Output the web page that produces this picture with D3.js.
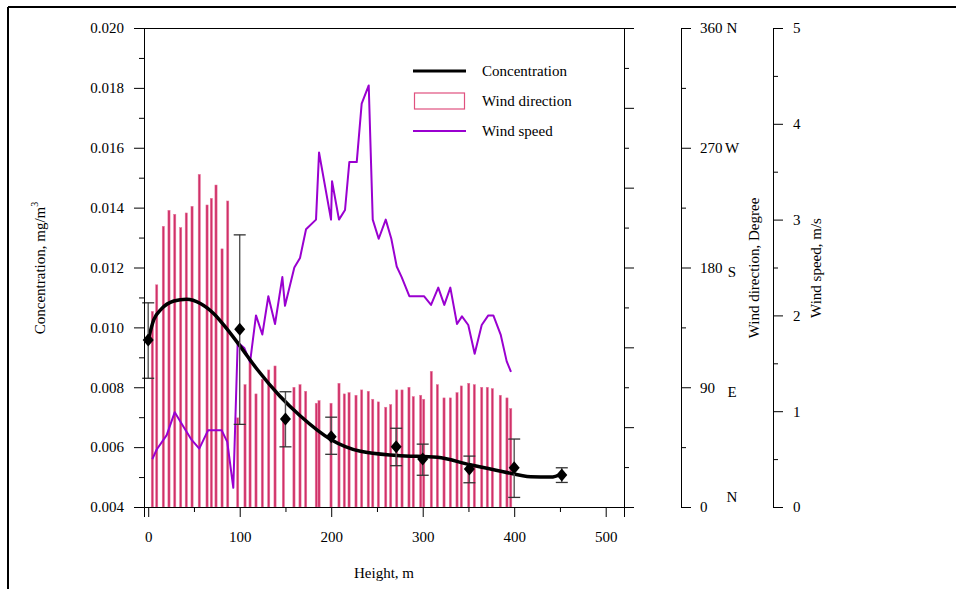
<!DOCTYPE html>
<html><head><meta charset="utf-8">
<script src="https://cdn.jsdelivr.net/npm/d3@7"></script>
<style>
html,body{margin:0;padding:0;background:#fff;}
svg text{font-family:"Liberation Serif","Times New Roman",serif;font-size:15px;fill:#000;}
</style></head>
<body><svg id="c" width="956" height="589"></svg>
<script>
// ---------- data ----------
// Wind direction measurements (height m, degrees)
const dirHeights = [4.5,9.3,16.5,22.7,29.0,35.5,41.6,47.9,55.8,64.3,69.0,74.1,80.7,86.9,97.8,105.8,111.3,117.8,124.7,131.7,138.6,147.7,159.3,165.9,172.1,183.7,186.7,199.8,208.5,214.3,219.5,227.1,233.3,240.5,245.4,251.5,259.6,265.0,271.6,277.4,285.0,289.7,297.8,301.1,309.4,316.0,323.3,330.2,337.5,342.2,350.3,356.4,364.5,370.6,376.1,384.8,392.1,396.2];
const dirValues  = [147,167,211,223,220,210,221,226,250,227,232,242,194,230,67,92,109,85,96,103,106,65,90,92,87,78,80,78,93,85,86,84,88,87,81,79,75,77,88,88,90,83,84,81,102,92,82,82,86,91,93,92,90,90,89,84,82,74];
// Wind speed (height m, m/s)
const speedHeights = [4.5,9.3,20.2,29.0,38.4,47.5,55.8,65.4,80.3,86.4,93.0,97.8,105.0,111.3,117.8,124.7,131.3,138.6,146.6,149.5,159.7,165.9,172.5,183.4,186.7,199.8,200.9,208.5,215.1,219.8,227.9,233.3,241.0,245.4,251.9,259.6,265.7,271.6,277.0,285.4,301.4,309.1,317.0,323.6,330.2,337.5,342.9,349.8,356.8,364.5,371.7,377.2,385.2,391.8,396.5];
const speedValues  = [0.50,0.60,0.75,0.99,0.84,0.70,0.61,0.80,0.80,0.68,0.20,1.72,1.66,1.51,2.00,1.80,2.20,1.91,2.40,2.10,2.50,2.60,2.90,3.00,3.70,3.00,3.40,3.00,3.10,3.60,3.60,4.21,4.40,3.00,2.80,3.00,2.80,2.51,2.40,2.20,2.20,2.11,2.29,2.11,2.29,1.91,1.99,1.90,1.60,1.90,2.00,2.00,1.80,1.52,1.41];
// Concentration measurements with error bars
const concHeights = [0,100,150,200,271,300,351,400,452];
const concValues  = [0.00958,0.00994,0.00694,0.00635,0.00601,0.00560,0.00527,0.00531,0.00507];
const concLow     = [0.00830,0.00676,0.00601,0.00576,0.00538,0.00506,0.00481,0.00432,0.00482];
const concHigh    = [0.01082,0.01309,0.00785,0.00700,0.00663,0.00610,0.00570,0.00627,0.00531];
// Fitted concentration curve
const fitHeights = [0,6,14,28,42,57,72,86,101,119,144,166,200,232,272,316,352,388,418,440,452];
const fitValues  = [0.00958,0.01025,0.01060,0.01088,0.01094,0.01080,0.01045,0.00995,0.00935,0.00860,0.00770,0.00705,0.00625,0.00586,0.00572,0.00566,0.00541,0.00518,0.00501,0.00500,0.00510];
// Tick values
const xMajorTicks = [0,100,200,300,400,500];
const xMinorTicks = [50,150,250,350,450];
const concMajorTicks = [0.004,0.006,0.008,0.010,0.012,0.014,0.016,0.018,0.020];
const concMinorTicks = [0.005,0.007,0.009,0.011,0.013,0.015,0.017,0.019];
const dirMajorTicks = [0,90,180,270,360];
const dirMinorTicks = [45,135,225,315];
const compassDeg = [360,270,180,90,0];
const compassLabels = ["N","W","S","E","N"];
const speedMajorTicks = [0,1,2,3,4,5];
const speedMinorTicks = [0.5,1.5,2.5,3.5,4.5];
const legendLabels = ["Concentration","Wind direction","Wind speed"];

// ---------- layout ----------
const L=144, R=624, T=28, B=507;
const svg = d3.select("#c");
const x  = d3.scaleLinear().domain([-4.6,520]).range([L,R]);
const yC = d3.scaleLinear().domain([0.004,0.020]).range([B,T]);
const yD = d3.scaleLinear().domain([0,360]).range([B,T]);
const yS = d3.scaleLinear().domain([0,5]).range([B,T]);

// outer frame
svg.append("line").attr("x1",8).attr("x2",956).attr("y1",7).attr("y2",7).attr("stroke","#000").attr("stroke-width",2);
svg.append("line").attr("x1",8).attr("x2",8).attr("y1",7).attr("y2",589).attr("stroke","#000").attr("stroke-width",2);

// bars: wind direction
const barColor="#d03168";
svg.append("g").selectAll("rect").data(dirHeights).join("rect")
  .attr("x",(d)=>x(d)-1.1).attr("width",2.2)
  .attr("y",(d,i)=>yD(dirValues[i])).attr("height",(d,i)=>yD(0)-yD(dirValues[i]))
  .attr("fill",barColor).attr("stroke","#e8789f").attr("stroke-width",0.5);

// wind speed line
const purple="#9a00d0";
svg.append("path").datum(speedHeights.map((h,i)=>[h,speedValues[i]]))
  .attr("d",d3.line().x(d=>x(d[0])).y(d=>yS(d[1])))
  .attr("fill","none").attr("stroke",purple).attr("stroke-width",2).attr("stroke-linejoin","round");

// fitted curve
svg.append("path").datum(fitHeights.map((h,i)=>[h,fitValues[i]]))
  .attr("d",d3.line().x(d=>x(d[0])).y(d=>yC(d[1])).curve(d3.curveMonotoneX))
  .attr("fill","none").attr("stroke","#000").attr("stroke-width",3.5);

// error bars
const eg = svg.append("g");
concHeights.forEach((h,i)=>{
  const cx=x(h);
  eg.append("line").attr("x1",cx).attr("x2",cx).attr("y1",yC(concLow[i])).attr("y2",yC(concHigh[i])).attr("stroke","#555").attr("stroke-width",1.4);
  [concLow[i],concHigh[i]].forEach(v=>{
    eg.append("line").attr("x1",cx-6).attr("x2",cx+6).attr("y1",yC(v)).attr("y2",yC(v)).attr("stroke","#333").attr("stroke-width",1.3);
  });
});
// diamonds
svg.append("g").selectAll("path").data(concHeights).join("path")
  .attr("transform",(d,i)=>`translate(${x(d)},${yC(concValues[i])})`)
  .attr("d","M0,-6.5L5.5,0L0,6.5L-5.5,0Z").attr("fill","#000");

// plot box
svg.append("line").attr("x1",L).attr("x2",R).attr("y1",T+0.5).attr("y2",T+0.5).attr("stroke","#000");
// right axis of plot (12 intervals)
const rScale = d3.scaleLinear().domain([0,12]).range([B,T]);
svg.append("g").attr("transform",`translate(${R},0)`)
  .call(d3.axisRight(rScale).tickValues(d3.range(0,13,2)).tickSize(10).tickFormat(""));
svg.append("g").attr("transform",`translate(${R},0)`)
  .call(d3.axisRight(rScale).tickValues(d3.range(1,12,2)).tickSize(5).tickFormat(""))
  .select(".domain").remove();

// x axis
svg.append("g").attr("transform",`translate(0,${B})`)
  .call(d3.axisBottom(x).tickValues(xMajorTicks).tickSize(10).tickPadding(14).tickFormat(d3.format("d")));
svg.append("g").attr("transform",`translate(0,${B})`)
  .call(d3.axisBottom(x).tickValues(xMinorTicks).tickSize(5).tickFormat(""))
  .select(".domain").remove();

// left axis
svg.append("g").attr("transform",`translate(${L},0)`)
  .call(d3.axisLeft(yC).tickValues(concMajorTicks).tickSize(10).tickPadding(10).tickFormat(d3.format(".3f")));
svg.append("g").attr("transform",`translate(${L},0)`)
  .call(d3.axisLeft(yC).tickValues(concMinorTicks).tickSize(5).tickFormat(""))
  .select(".domain").remove();

// wind direction axis
const DX=681;
svg.append("g").attr("transform",`translate(${DX},0)`)
  .call(d3.axisRight(yD).tickValues(dirMajorTicks).tickSize(10).tickPadding(9).tickFormat(d3.format("d")));
svg.append("g").attr("transform",`translate(${DX},0)`)
  .call(d3.axisRight(yD).tickValues(dirMinorTicks).tickSize(5).tickFormat(""))
  .select(".domain").remove();
svg.append("g").selectAll("text").data(compassDeg).join("text")
  .attr("x",732).attr("y",d=>Math.min(yD(d)+(d>=270?0:5),yD(0)-10)).attr("dy","0.32em")
  .attr("text-anchor","middle").text((d,i)=>compassLabels[i]);

// wind speed axis
const SX=773;
svg.append("g").attr("transform",`translate(${SX},0)`)
  .call(d3.axisRight(yS).tickValues(speedMajorTicks).tickSize(10).tickPadding(10).tickFormat(d3.format("d")));
svg.append("g").attr("transform",`translate(${SX},0)`)
  .call(d3.axisRight(yS).tickValues(speedMinorTicks).tickSize(5).tickFormat(""))
  .select(".domain").remove();

svg.selectAll(".tick text").style("font-family",'"Liberation Serif","Times New Roman",serif').style("font-size","15px").attr("fill","#000");
svg.selectAll(".domain, .tick line").attr("stroke","#000");

// axis titles
svg.append("text").attr("x",(L+R)/2).attr("y",578).attr("text-anchor","middle").text("Height, m");
const ct = svg.append("text").attr("transform","translate(45,268) rotate(-90)").attr("text-anchor","middle");
ct.append("tspan").text("Concentration, mg/m");
ct.append("tspan").attr("font-size","10px").attr("dy","-7").text("3");
svg.append("text").attr("transform","translate(759,268) rotate(-90)").attr("text-anchor","middle").text("Wind direction, Degree");
svg.append("text").attr("transform","translate(821,268) rotate(-90)").attr("text-anchor","middle").text("Wind speed, m/s");

// legend
const lg = svg.append("g");
lg.append("line").attr("x1",413).attr("x2",466).attr("y1",71).attr("y2",71).attr("stroke","#000").attr("stroke-width",3);
lg.append("rect").attr("x",414.5).attr("y",93).attr("width",50).attr("height",16).attr("fill","#fff").attr("stroke","#e0507f").attr("stroke-width",1.2);
lg.append("line").attr("x1",413).attr("x2",466).attr("y1",131).attr("y2",131).attr("stroke",purple).attr("stroke-width",2);
lg.selectAll("text").data(legendLabels).join("text")
  .attr("x",482).attr("y",(d,i)=>71+i*30).attr("dy","0.32em").text(d=>d);
</script></body></html>
